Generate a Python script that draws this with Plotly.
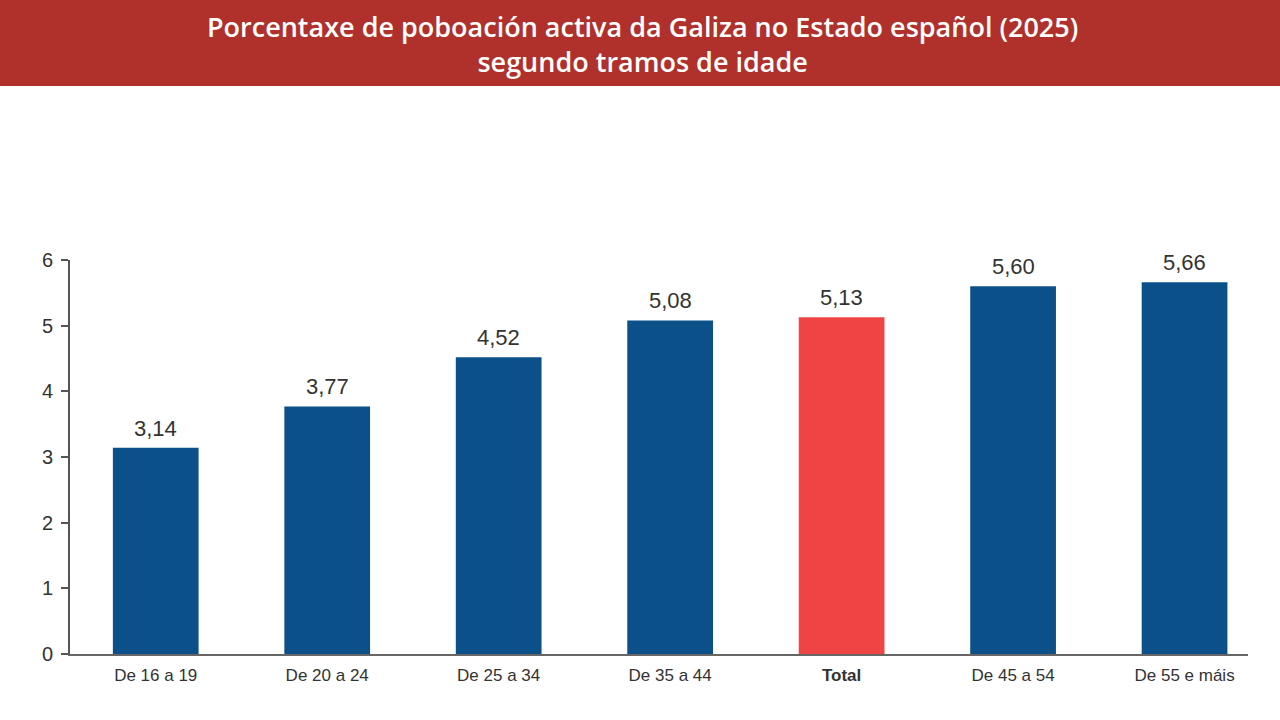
import plotly.graph_objects as go

categories = ["De 16 a 19", "De 20 a 24", "De 25 a 34", "De 35 a 44", "Total", "De 45 a 54", "De 55 e máis"]
values = [3.14, 3.77, 4.52, 5.08, 5.13, 5.60, 5.66]
highlight = "Total"
tick_vals = [0, 1, 2, 3, 4, 5, 6]

BLUE = "#0B5089"
RED = "#EF4444"
colors = [RED if c == highlight else BLUE for c in categories]
tick_text = [f"<b>{c}</b>" if c == highlight else c for c in categories]

L, R, T, B = 70, 32, 260, 66
W, H = 1280, 720
pw, ph = W - L - R, H - T - B

fig = go.Figure(go.Bar(
    x=list(range(len(categories))), y=values,
    marker=dict(color=colors, line=dict(width=0)),
    width=0.5,
    hoverinfo="skip",
))

for i, v in enumerate(values):
    fig.add_annotation(
        x=i, y=v, xref="x", yref="y", text=f"{v:.2f}".replace(".", ","),
        showarrow=False, yanchor="bottom", yshift=5,
        font=dict(family="Liberation Sans, Arial", size=22, color="#333"),
    )

fig.update_layout(
    width=W, height=H, margin=dict(l=L, r=R, t=T, b=B),
    paper_bgcolor="white", plot_bgcolor="white",
    showlegend=False,
    xaxis=dict(
        range=[-0.5, 6.37], tickmode="array",
        tickvals=list(range(len(categories))), ticktext=tick_text,
        showgrid=False, zeroline=False,
        showline=True, linecolor="#666", linewidth=2,
        ticks="", ticklabelstandoff=5,
        tickfont=dict(family="Liberation Sans, Arial", size=17, color="#333"),
    ),
    yaxis=dict(
        range=[0, 6], tickmode="array", tickvals=tick_vals,
        showgrid=False, zeroline=False,
        showline=True, linecolor="#555", linewidth=2,
        ticks="outside", ticklen=7, tickwidth=2, tickcolor="#555",
        ticklabelstandoff=4,
        tickfont=dict(family="Liberation Sans, Arial", size=20, color="#333"),
    ),
)

def py(pix):
    return (H - B - pix) / ph

def px(pix):
    return (pix - L) / pw

fig.add_shape(type="rect", xref="paper", yref="paper",
              x0=px(0), x1=px(W), y0=py(86), y1=py(0),
              fillcolor="#B0302C", line=dict(width=0), layer="above")
fig.add_annotation(
    xref="paper", yref="paper", x=px(642), y=py(44), xanchor="center", yanchor="middle",
    text="Porcentaxe de poboación activa da Galiza no Estado español (2025)<br>segundo tramos de idade",
    showarrow=False, align="center",
    font=dict(family="Open Sans", size=27, color="white", weight=600),
)

fig.write_html("out.html")
